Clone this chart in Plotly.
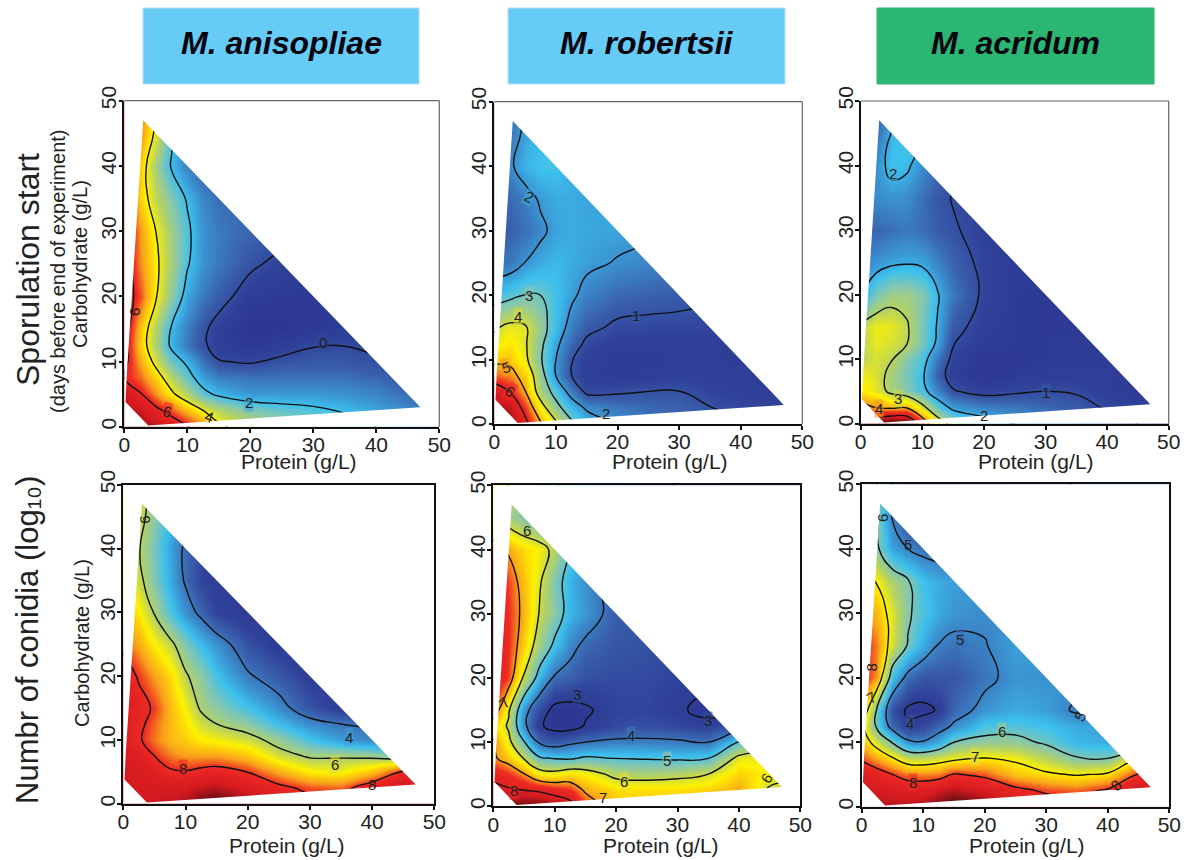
import plotly.graph_objects as go

PROTEIN = [0, 2.5, 5, 7.5, 10, 12.5, 15, 20, 25, 30, 35, 40, 45, 50]
CARB = [50, 45, 40, 35, 30, 25, 20, 15, 12.5, 10, 7.5, 5, 2.5, 0]
TICKS = [0, 10, 20, 30, 40, 50]
SPECIES = ["M. anisopliae", "M. robertsii", "M. acridum"]

SPORE_ANISOPLIAE = [
    [6.5, 5.5, 4.0],
    [6.3, 5.2, 3.8, 2.2, 0.8],
    [6.5, 4.6, 3.1, 1.9, 1.0, 0.5, 0.3],
    [6.8, 4.5, 3.5, 2.7, 1.9, 1.1, 0.7, 0.5],
    [6.6, 5.1, 4.0, 3.1, 2.2, 1.3, 0.9, 0.6, 0.4],
    [6.6, 5.2, 4.2, 3.2, 2.1, 1.3, 0.9, 0.2, -0.3, -0.4],
    [6.6, 5.6, 4.1, 2.9, 1.6, 0.9, 0.4, -0.5, -0.7, -0.7, -0.7],
    [6.6, 4.7, 3.3, 1.9, 1.0, 0.2, -0.4, -1.0, -0.9, -0.7, -0.5, -0.4],
    [6.4, 4.6, 3.2, 1.8, 0.9, 0.15, -0.4, -0.7, -0.4, -0.05, -0.02, -0.1],
    [6.3, 5.0, 3.7, 2.5, 1.8, 0.8, 0.05, -0.1, 0.2, 0.3, 0.3, 0.05, -0.1],
    [6.0, 5.4, 4.5, 3.4, 2.4, 1.5, 1.0, 0.8, 0.8, 0.8, 0.8, 0.6, 0.3],
    [7.0, 6.1, 5.1, 4.2, 3.3, 2.3, 1.8, 1.4, 1.4, 1.4, 1.3, 1.1, 0.7, 0.5],
    [7.2, 7.0, 6.3, 5.6, 4.8, 4.0, 3.4, 2.7, 2.4, 2.2, 1.9, 1.6, 1.2, 1.0],
    [7.4, 7.4, 7.2, 6.7, 6.1, 5.3, 4.2, 3.5, 3.0, 2.7, 2.4, 2.0, 1.6, 1.3],
]
SPORE_ROBERTSII = [
    [1.2, 1.3, 2.0],
    [1.3, 1.5, 2.2, 2.5, 2.6],
    [1.3, 1.85, 2.4, 2.6, 2.6, 2.4, 2.3],
    [1.2, 1.4, 1.7, 2.1, 2.3, 2.3, 2.2, 2.2],
    [1.1, 1.3, 1.5, 1.85, 2.2, 2.3, 2.25, 2.2, 2.1],
    [1.5, 1.6, 2.02, 2.3, 2.45, 2.3, 2.15, 1.95, 1.8, 1.6],
    [2.6, 2.8, 3.02, 3.0, 2.6, 2.15, 1.75, 1.4, 1.3, 1.2, 1.1],
    [3.9, 4.2, 4.1, 3.4, 2.5, 1.7, 1.2, 0.85, 0.8, 0.8, 0.75, 0.7],
    [4.2, 4.5, 4.1, 3.2, 2.2, 1.4, 0.85, 0.55, 0.55, 0.55, 0.5, 0.45],
    [4.8, 4.8, 4.2, 3.1, 2.0, 1.05, 0.6, 0.35, 0.4, 0.45, 0.45, 0.4, 0.4],
    [5.5, 5.3, 4.7, 3.4, 2.0, 1.02, 0.5, 0.4, 0.5, 0.6, 0.6, 0.55, 0.5],
    [6.6, 6.0, 5.05, 3.6, 2.7, 1.7, 0.85, 0.92, 1.02, 1.03, 0.7, 0.6, 0.5, 0.5],
    [7.0, 6.9, 5.7, 4.4, 3.3, 2.5, 1.9, 1.6, 1.4, 1.3, 1.03, 0.8, 0.7, 0.6],
    [7.2, 7.2, 6.3, 5.1, 4.2, 3.2, 2.5, 2.0, 1.7, 1.6, 1.4, 1.1, 0.9, 0.8],
]
SPORE_ACRIDUM = [
    [0.9, 1.0, 1.5],
    [1.0, 1.4, 2.02, 2.3, 2.1],
    [1.5, 1.7, 2.2, 2.1, 1.7, 1.4, 1.2],
    [1.6, 1.7, 1.75, 1.7, 1.4, 1.15, 0.97, 0.8],
    [1.3, 1.3, 1.4, 1.5, 1.4, 1.2, 1.06, 0.8, 0.7],
    [1.6, 1.75, 1.9, 1.95, 1.9, 1.6, 1.3, 0.85, 0.65, 0.6],
    [1.9, 2.5, 2.8, 2.8, 2.6, 2.05, 1.5, 0.9, 0.6, 0.55, 0.5],
    [3.0, 3.35, 3.3, 3.06, 2.5, 1.95, 1.2, 0.75, 0.6, 0.55, 0.55, 0.5],
    [3.0, 3.3, 3.2, 3.02, 2.5, 1.9, 1.03, 0.65, 0.6, 0.6, 0.65, 0.6],
    [3.0, 3.2, 3.03, 2.6, 2.25, 1.5, 0.85, 0.5, 0.55, 0.6, 0.65, 0.65, 0.6],
    [3.4, 3.2, 2.85, 2.5, 2.1, 1.25, 0.75, 0.45, 0.6, 0.7, 0.7, 0.7, 0.6],
    [3.5, 3.3, 2.85, 2.6, 2.2, 1.6, 1.05, 0.8, 0.92, 1.0, 0.95, 0.7, 0.6, 0.5],
    [4.3, 4.0, 3.9, 3.95, 3.2, 2.4, 1.85, 1.6, 1.5, 1.35, 1.2, 0.95, 0.8, 0.7],
    [5.2, 5.6, 6.0, 5.9, 4.5, 3.4, 2.8, 2.3, 2.0, 1.8, 1.6, 1.3, 1.0, 0.9],
]
CONIDIA_ANISOPLIAE = [
    [6.5, 6.3, 5.8],
    [6.8, 6.3, 5.6, 4.9, 4.2],
    [6.7, 6.05, 5.4, 4.6, 3.85, 3.4, 3.1],
    [6.9, 6.2, 5.5, 4.7, 3.9, 3.2, 3.0, 2.8],
    [7.3, 6.7, 5.95, 5.1, 4.4, 3.8, 3.2, 2.8, 2.6],
    [7.8, 7.3, 6.7, 6.2, 5.5, 4.9, 4.4, 3.5, 2.9, 2.6],
    [8.5, 7.9, 7.4, 6.9, 6.1, 5.6, 5.0, 4.1, 3.6, 3.0, 2.8],
    [8.6, 8.3, 7.9, 7.2, 6.6, 5.9, 5.6, 5.0, 4.3, 3.5, 3.0, 2.8],
    [8.6, 8.2, 7.7, 7.2, 6.8, 6.3, 6.0, 5.6, 4.9, 4.3, 4.0, 3.9],
    [8.5, 8.1, 7.6, 7.2, 7.0, 6.7, 6.6, 6.3, 5.7, 5.0, 4.5, 4.2, 4.0],
    [8.8, 8.5, 8.0, 7.6, 7.4, 7.4, 7.4, 7.1, 6.3, 5.9, 5.9, 5.8, 5.5],
    [8.8, 8.7, 8.5, 8.1, 8.05, 8.2, 8.3, 7.98, 7.3, 6.7, 6.6, 7.1, 8.1, 8.5],
    [8.8, 8.8, 8.8, 8.8, 8.8, 9.0, 9.1, 8.7, 8.2, 7.8, 7.7, 8.5, 8.9, 8.9],
    [8.9, 8.9, 8.9, 9.0, 9.2, 9.6, 9.9, 9.3, 8.7, 8.3, 8.2, 8.8, 9.0, 9.2],
]
CONIDIA_ROBERTSII = [
    [6.5, 6.0, 5.5],
    [6.5, 5.6, 5.3, 5.0],
    [7.2, 6.9, 6.5, 6.3, 5.8, 4.95, 4.5],
    [7.8, 7.4, 6.7, 6.1, 5.3, 4.7, 4.3, 3.7],
    [7.9, 7.5, 6.8, 5.97, 5.4, 4.7, 4.4, 3.7, 3.6],
    [8.0, 7.5, 6.6, 5.6, 4.85, 4.2, 3.85, 3.6, 3.5, 3.5],
    [8.0, 7.4, 5.9, 4.7, 3.9, 3.75, 3.5, 3.4, 3.4, 3.25, 3.2],
    [7.5, 6.1, 4.3, 3.4, 2.8, 2.75, 2.9, 3.3, 3.3, 3.1, 2.8, 3.0],
    [6.6, 5.9, 4.2, 3.1, 2.75, 2.7, 3.05, 3.4, 3.5, 3.4, 3.2, 3.7],
    [7.1, 6.2, 5.05, 3.9, 3.6, 3.85, 4.0, 4.15, 4.15, 4.1, 4.0, 5.05, 5.5],
    [7.1, 6.7, 5.95, 5.1, 4.95, 4.9, 5.1, 4.98, 4.95, 4.9, 4.98, 6.2, 6.2],
    [7.8, 7.5, 7.05, 6.35, 6.25, 6.5, 6.35, 5.8, 5.7, 5.8, 6.0, 6.6, 6.3, 6.0],
    [8.2, 8.1, 8.0, 7.9, 7.7, 7.5, 6.9, 6.5, 6.5, 6.5, 6.6, 6.9, 5.9, 5.7],
    [8.7, 8.9, 8.9, 8.9, 8.6, 8.3, 7.5, 6.7, 6.7, 6.7, 6.7, 7.0, 6.0, 5.8],
]
CONIDIA_ACRIDUM = [
    [6.5, 6.0, 5.0, 4.5],
    [6.6, 6.1, 4.95, 4.4, 4.2],
    [6.6, 6.1, 5.3, 5.0, 4.8, 4.7, 4.5],
    [7.3, 6.95, 6.4, 6.05, 5.6, 5.4, 5.3, 5.2],
    [7.6, 7.4, 6.75, 6.1, 5.7, 5.4, 5.2, 5.1, 5.1],
    [8.2, 7.7, 6.7, 5.95, 5.4, 4.97, 4.85, 4.97, 5.3, 5.3],
    [8.2, 7.6, 5.6, 4.8, 4.5, 4.5, 4.5, 4.85, 5.2, 5.15, 5.3],
    [7.7, 5.9, 4.4, 3.9, 3.85, 4.05, 4.7, 5.2, 5.4, 5.3, 4.9, 5.0],
    [7.2, 5.85, 4.7, 4.1, 4.3, 4.7, 5.1, 5.7, 5.75, 5.6, 5.4, 5.3],
    [7.4, 6.7, 5.95, 5.15, 5.05, 5.4, 6.0, 6.2, 6.2, 5.9, 5.5, 5.4, 5.4],
    [7.9, 7.5, 7.05, 6.6, 6.55, 6.7, 6.85, 7.03, 6.9, 6.5, 6.05, 6.0, 7.0],
    [8.5, 8.3, 8.0, 7.7, 7.65, 7.7, 8.05, 7.85, 7.3, 7.1, 6.95, 7.1, 8.05, 8.5],
    [8.7, 8.7, 8.6, 8.5, 8.5, 8.7, 8.9, 8.6, 8.2, 7.9, 7.8, 8.1, 8.7, 8.8],
    [8.9, 8.9, 8.9, 8.9, 9.0, 9.3, 9.6, 9.3, 8.6, 8.4, 8.3, 8.5, 8.9, 9.0],
]

# Outline of the sampled region (protein, carbohydrate)
DOMAIN_PROTEIN = [3.8, 47, 3, 0.4, 0.2, 3.8]
DOMAIN_CARB = [0.2, 3, 47, 8, 3.8, 0.2]

COLORSCALE = [
    [0.00, "#2b318f"], [0.12, "#30429a"], [0.20, "#3a62ae"], [0.30, "#3b9ad6"], [0.36, "#3cc0ee"],
    [0.44, "#85c7b0"], [0.52, "#b9d45e"], [0.60, "#fff200"], [0.70, "#f9a11b"],
    [0.78, "#ee2a24"], [0.90, "#d41a20"], [1.00, "#6d1014"],
]

PANELS = [
    dict(z=SPORE_ANISOPLIAE, zr=(-1.3, 7.8), lv=(0, 6, 2), box=(124.3, 439.3, 100.7, 426.7),
         labels=[("6", 1.7, 17.6, -90, None), ("0", 31.5, 12.9, 0, "#33479c"),
                 ("2", 19.8, 3.7, 0, "#3fa6d8"), ("4", 13.4, 1.5, 20, None), ("6", 6.8, 2.3, 15, "#ee2a24")]),
    dict(z=SPORE_ROBERTSII, zr=(-0.23, 7.46), lv=(1, 6, 1), box=(494.3, 802.3, 101.7, 424.3),
         labels=[("2", 5.6, 35.3, 25, "#3fa6d8"), ("3", 5.6, 20, 0, "#8ec6a8"), ("4", 3.8, 16.7, 0, "#d8de40"),
                 ("5", 1.9, 8.8, -15, "#f79a1c"), ("6", 2.6, 5.1, 35, "#ee2a24"), ("1", 23, 16.9, 0, "#3558a5"),
                 ("2", 18.2, 1.6, 0, None)]),
    dict(z=SPORE_ACRIDUM, zr=(0.2, 5.6), lv=(1, 5, 1), box=(860.7, 1168.7, 101, 423.7),
         labels=[("2", 5.3, 38.7, 0, "#3fb8e6"), ("3", 6, 3.9, 0, "#cfd94a"), ("4", 2.9, 2.4, 0, "#f79a1c"),
                 ("2", 20, 1.3, 0, None), ("1", 30, 4.9, 0, "#3558a5")]),
    dict(z=CONIDIA_ANISOPLIAE, zr=(2.3, 9.6), lv=(4, 8, 2), box=(123.3, 434.3, 484.7, 803.7),
         labels=[("6", 3.5, 44.5, -90, None), ("8", 9.6, 5.5, 0, "#ee2a24"), ("4", 36.3, 10.3, 0, "#3fa0d8"),
                 ("6", 34, 6.2, 0, "#d8de40"), ("8", 40, 3, 0, None)]),
    dict(z=CONIDIA_ROBERTSII, zr=(2.5, 8.9), lv=(3, 8, 1), box=(493.3, 800.3, 485.3, 806.3),
         labels=[("6", 5.5, 42.9, 0, None), ("7", 1.8, 16.2, -45, None), ("3", 13.6, 17.4, 0, "#2f4a9c"),
                 ("3", 34.9, 13.4, 0, "#334a9c"), ("4", 22.4, 11, 0, "#3a7cc0"), ("5", 28.3, 7.1, 0, "#8ec6a8"),
                 ("6", 21.3, 3.8, 0, "#e6e238"), ("7", 17.8, 1.4, 0, None), ("8", 3.4, 2.4, 0, "#ee2a24"),
                 ("6", 44.5, 4.3, -60, None)]),
    dict(z=CONIDIA_ACRIDUM, zr=(3.5, 9.3), lv=(4, 8, 1), box=(861.7, 1169.3, 484.3, 806.7),
         labels=[("6", 3.4, 44.7, -90, None), ("5", 7.6, 40.7, 0, None), ("8", 1.6, 21.5, -90, None),
                 ("7", 1.5, 17, -30, None), ("5", 15.9, 26, 0, "#3a70b8"), ("4", 7.9, 12.9, 0, "#3555a0"),
                 ("5", 35.5, 14, -60, None), ("6", 22.8, 11.6, 0, "#9ccb90"), ("7", 18.4, 7.8, 0, "#e6e238"),
                 ("8", 8.4, 3.8, 0, "#ee2a24"), ("8", 41.3, 3.3, -45, None)]),
]
PROTEIN_LABELS = [(299, 461), (670, 461), (1036, 461), (287, 845), (661, 845), (1027, 845)]
HEADERS = [(143, 419, "#66ccf6"), (508, 785, "#66ccf6"), (877, 1154, "#2cb673")]

W, H = 1188, 860
FONT = "Liberation Sans, Arial, sans-serif"
fig = go.Figure()
ann, shapes = [], []


def px(v):
    return v / W


def py(v):
    return 1 - v / H


def soft(h):
    return "rgba(%d,%d,%d,0.6)" % (int(h[1:3], 16), int(h[3:5], 16), int(h[5:7], 16))


def text(t, x, y, fs, xref="x7", yref="y7", angle=0, bg=None, color="#222"):
    d = dict(text=t, x=x, y=y, xref=xref, yref=yref, showarrow=False, textangle=angle, xanchor="center",
             yanchor="middle", font=dict(family=FONT, size=fs, color=color), borderpad=0)
    if bg:
        d["bgcolor"] = soft(bg)
    ann.append(d)


for i, p in enumerate(PANELS):
    n = "" if i == 0 else str(i + 1)
    z = [list(r) + [None] * (len(PROTEIN) - len(r)) for r in p["z"]]
    x0, x1, yt, yb = p["box"]
    row1 = i < 3
    fig.add_trace(go.Contour(
        x=PROTEIN, y=CARB, z=z, xaxis="x" + n, yaxis="y" + n, connectgaps=True, showscale=False,
        colorscale=COLORSCALE, zauto=False, zmin=p["zr"][0], zmax=p["zr"][1], autocontour=False,
        contours=dict(coloring="heatmap", start=p["lv"][0], end=p["lv"][1], size=p["lv"][2], showlines=True),
        line=dict(color="#111111", width=1.4, smoothing=1.3), hoverinfo="skip",
    ))
    # white cover outside the sampled region, wound opposite to the frame so the region stays open
    fig.add_trace(go.Scatter(
        x=[0, 0, 50, 50, 0] + DOMAIN_PROTEIN + [0], y=[0, 50, 50, 0, 0] + DOMAIN_CARB + [0],
        xaxis="x" + n, yaxis="y" + n, mode="none", fill="toself", fillcolor="white",
        hoverinfo="skip", showlegend=False,
    ))
    ax = dict(range=[0, 50], tickmode="array", tickvals=TICKS, ticks="outside", ticklen=4, tickwidth=1.5,
              tickcolor="#111", showgrid=False, zeroline=False, showline=True, linecolor="#111",
              linewidth=1.6 if row1 else 2, mirror=not row1, ticklabelstandoff=-6,
              tickfont=dict(family=FONT, size=21, color="#222"))
    fig.update_layout({
        "xaxis" + n: dict(ax, domain=[px(x0), px(x1)], anchor="y" + n),
        "yaxis" + n: dict(ax, domain=[py(yb), py(yt)], anchor="x" + n, tickangle=-90),
    })
    if row1:
        for sx0, sy0, sx1, sy1 in [(x0, yt, x1, yt), (x1, yt, x1, yb)]:
            shapes.append(dict(type="line", xref="x7", yref="y7", x0=sx0, x1=sx1, y0=sy0, y1=sy1,
                               line=dict(color="#666666", width=1.2)))
    for t, lx, ly, ang, bg in p["labels"]:
        text(t, lx, ly, 15, "x" + n, "y" + n, ang, bg)
    text("Protein (g/L)", PROTEIN_LABELS[i][0], PROTEIN_LABELS[i][1], 21)

for (a, b, c), name in zip(HEADERS, SPECIES):
    shapes.append(dict(type="rect", xref="x7", yref="y7", x0=a, x1=b, y0=84, y1=8,
                       fillcolor=c, line=dict(color="#b5dff2" if c != "#2cb673" else c, width=1)))
    text("<b><i>%s</i></b>" % name, (a + b) / 2, 43, 32, color="#060610")

SIDE_TEXT = [
    ("Sporulation start", 28, 270, 32), ("(days before end of experiment)", 58, 271, 20),
    ("Carbohydrate (g/L)", 80, 264, 20), ("Carbohydrate (g/L)", 82, 643, 20),
    ("Numbr of conidia (log₁₀)", 27, 640, 31),
]
for t, sx, sy, fs in SIDE_TEXT:
    text(t, sx, sy, fs, angle=-90)

# page-wide helper axes: texts and header boxes are placed on them
fig.add_trace(go.Scatter(x=[], y=[], xaxis="x7", yaxis="y7", hoverinfo="skip", showlegend=False))
fig.update_layout(
    xaxis7=dict(domain=[0, 1], range=[0, W], visible=False, anchor="y7", fixedrange=True),
    yaxis7=dict(domain=[0, 1], range=[H, 0], visible=False, anchor="x7", fixedrange=True),
    width=W, height=H, margin=dict(l=0, r=0, t=0, b=0, pad=0, autoexpand=False), paper_bgcolor="white",
    plot_bgcolor="rgba(0,0,0,0)", showlegend=False, annotations=ann, shapes=shapes)
fig.write_html("out.html", post_script="document.body.style.margin='0';", config={"displayModeBar": False})
